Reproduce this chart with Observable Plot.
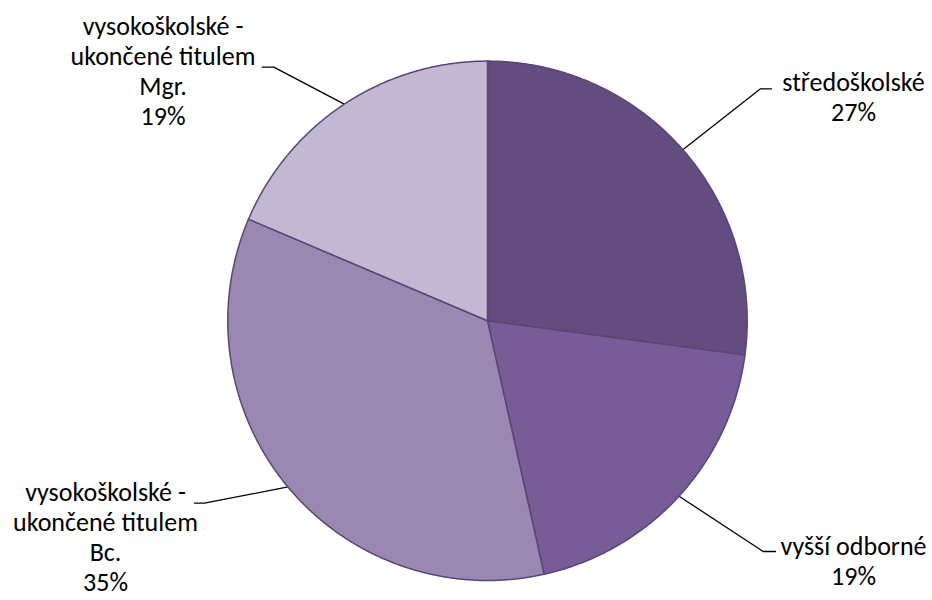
<!DOCTYPE html>
<html><head><meta charset="utf-8">
<script src="https://cdn.jsdelivr.net/npm/d3@7"></script>
<script src="https://cdn.jsdelivr.net/npm/@observablehq/plot@0.6"></script>
<style>html,body{margin:0;padding:0;background:#fff}</style>
</head><body><div id="chart"></div>
<script>
// ---- data ----
const categories = ["středoškolské", "vyšší odborné", "vysokoškolské - ukončené titulem Bc.", "vysokoškolské - ukončené titulem Mgr."];
const labelLines = [["středoškolské"], ["vyšší odborné"], ["vysokoškolské -", "ukončené titulem", "Bc."], ["vysokoškolské -", "ukončené titulem", "Mgr."]];
const values = [27.1, 19.4, 34.9, 18.6];
const colors = ["#634C7F", "#775C98", "#9A88B3", "#C2B8D2"];

// ---- layout (pixels) ----
const W = 932, H = 600, CX = 487, CY = 320.3, R = 259.7;
const FS = 26, LH = 30;
const layout = [
  {tx: 853, by: 88, elbow: [760, 88.3], end: [771, 88.3]},
  {tx: 853, by: 552, elbow: [762.7, 551], end: [775, 551]},
  {tx: 105, by: 498, elbow: [204, 502.7], end: [194, 502.7]},
  {tx: 162.5, by: 32, elbow: [273.3, 66.7], end: [261.7, 66.7]}
];
const ux = px => (px - CX) / R;
const uy = py => (CY - py) / R;

const total = d3.sum(values);
const arcs = d3.pie().sort(null).startAngle(0).endAngle(2 * Math.PI)(values);

const sliceRows = [];
arcs.forEach((a, i) => {
  sliceRows.push({cat: categories[i], x: 0, y: 0});
  const n = Math.max(2, Math.ceil((a.endAngle - a.startAngle) / 0.005));
  for (let k = 0; k <= n; k++) {
    const t = a.startAngle + (a.endAngle - a.startAngle) * k / n;
    sliceRows.push({cat: categories[i], x: Math.sin(t), y: Math.cos(t)});
  }
});

const leaderRows = [];
arcs.forEach((a, i) => {
  const m = (a.startAngle + a.endAngle) / 2;
  const L = layout[i];
  leaderRows.push({cat: categories[i], x: Math.sin(m), y: Math.cos(m)});
  leaderRows.push({cat: categories[i], x: ux(L.elbow[0]), y: uy(L.elbow[1])});
  leaderRows.push({cat: categories[i], x: ux(L.end[0]), y: uy(L.end[1])});
});

const labelRows = categories.map((c, i) => ({
  cat: c,
  text: [...labelLines[i], Math.round(values[i] / total * 100) + "%"].join("\n"),
  x: ux(layout[i].tx),
  y: uy(layout[i].by - 0.71 * FS)
}));

const chart = Plot.plot({
  width: W, height: H,
  margin: 0,
  x: {domain: [-CX / R, (W - CX) / R], range: [0, W], axis: null},
  y: {domain: [-(H - CY) / R, CY / R], range: [H, 0], axis: null},
  color: {domain: categories, range: colors},
  style: {fontFamily: "Carlito, Lato, sans-serif", background: "#fff"},
  marks: [
    Plot.line(leaderRows, {x: "x", y: "y", z: "cat", stroke: "#000", strokeWidth: 1.3, curve: "linear"}),
    Plot.line(sliceRows, {x: "x", y: "y", z: "cat", fill: "cat", stroke: "#5A4575", strokeWidth: 1.5, curve: "linear-closed", strokeLinejoin: "round"}),
    Plot.text(labelRows, {x: "x", y: "y", text: "text", textAnchor: "middle", lineAnchor: "top", lineHeight: LH / FS, fontSize: FS, fill: "#000"})
  ]
});
document.getElementById("chart").appendChild(chart);
</script>
</body></html>
